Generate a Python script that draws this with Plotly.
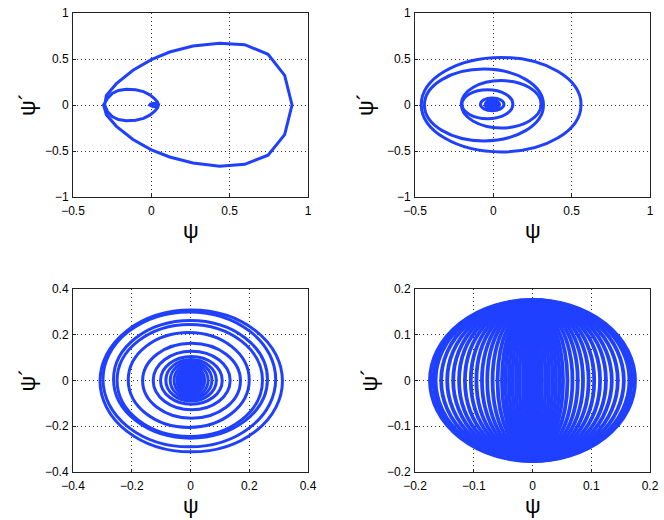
import plotly.graph_objects as go

BLUE = "#2040ff"

# ---- Panel 1 (top-left): vertices ----
p1_psi = [0.035, 0.028, 0.012, -0.005, -0.010, -0.005, 0.012, 0.028, 0.035, 0.045,
          0.040, 0.020, -0.010, -0.050, -0.100, -0.160, -0.210, -0.250, -0.280, -0.298,
          -0.287, -0.223, -0.117, 0.0, 0.117, 0.266, 0.436, 0.596, 0.745, 0.851, 0.898,
          0.851, 0.745, 0.596, 0.436, 0.266, 0.117, 0.0, -0.117, -0.223, -0.287, -0.305,
          -0.280, -0.250, -0.210, -0.160, -0.100, -0.050, -0.010, 0.020, 0.040, 0.045]
p1_dpsi = [0.0, -0.014, -0.018, -0.010, 0.0, 0.010, 0.018, 0.014, 0.0, 0.0,
           -0.030, -0.070, -0.110, -0.145, -0.165, -0.170, -0.158, -0.125, -0.070, 0.0,
           0.105, 0.232, 0.377, 0.493, 0.576, 0.641, 0.672, 0.656, 0.551, 0.322, 0.0,
           -0.322, -0.545, -0.645, -0.665, -0.630, -0.565, -0.488, -0.375, -0.232, -0.105, 0.0,
           0.070, 0.125, 0.158, 0.170, 0.165, 0.145, 0.110, 0.070, 0.030, 0.0]

# ---- Panel 2 (top-right): turns as (left, right, bottom, top) extents ----
p2_left = [-0.460, -0.440, -0.205, -0.200, -0.082, -0.052, -0.036, -0.026, -0.016]
p2_right = [0.560, 0.320, 0.305, 0.125, 0.068, 0.040, 0.026, 0.016, 0.006]
p2_bottom = [-0.510, -0.390, -0.250, -0.150, -0.062, -0.045, -0.032, -0.020, -0.010]
p2_top = [0.517, 0.390, 0.265, 0.165, 0.077, 0.052, 0.036, 0.024, 0.012]

# ---- Panel 3 (bottom-left) ----
p3_left = [-0.308, -0.298, -0.262, -0.250, -0.212, -0.163, -0.127, -0.102, -0.084, -0.069,
           -0.056, -0.046, -0.039, -0.032, -0.026, -0.020, -0.014, -0.009, -0.004]
p3_right = [0.313, 0.290, 0.262, 0.245, 0.200, 0.170, 0.135, 0.108, 0.088, 0.073,
            0.060, 0.048, 0.040, 0.033, 0.027, 0.021, 0.015, 0.010, 0.005]
p3_bottom = [-0.312, -0.290, -0.252, -0.245, -0.205, -0.165, -0.128, -0.104, -0.090, -0.080,
             -0.072, -0.064, -0.056, -0.048, -0.040, -0.032, -0.024, -0.016, -0.008]
p3_top = [0.308, 0.300, 0.262, 0.245, 0.210, 0.163, 0.128, 0.105, 0.092, 0.082,
          0.074, 0.066, 0.058, 0.050, 0.042, 0.034, 0.026, 0.018, 0.009]

# ---- Panel 4 (bottom-right): ring half-widths / half-heights ----
p4_halfwidth = [0.1745, 0.1685, 0.165, 0.1555, 0.1452, 0.135, 0.125, 0.115, 0.105, 0.0955,
                0.086, 0.077, 0.068, 0.0595, 0.052, 0.046, 0.040, 0.034, 0.028, 0.022,
                0.016, 0.010, 0.005, 0.001]
p4_halfheight = [0.176, 0.1755, 0.175, 0.174, 0.173, 0.172, 0.171, 0.170, 0.169, 0.168,
                 0.167, 0.166, 0.165, 0.164, 0.163, 0.162, 0.161, 0.160, 0.159, 0.158,
                 0.157, 0.156, 0.155, 0.154]

x_ticks_top = [-0.5, 0, 0.5, 1]
y_ticks_top = [-1, -0.5, 0, 0.5, 1]
ticks_p3 = [-0.4, -0.2, 0, 0.2, 0.4]
ticks_p4 = [-0.2, -0.1, 0, 0.1, 0.2]

W, H = 664, 520
LW = 3
LW4 = 3.8

fig = go.Figure()

fig.add_trace(go.Scatter(x=p1_psi, y=p1_dpsi, mode="lines",
                         line=dict(color=BLUE, width=LW), xaxis="x", yaxis="y",
                         showlegend=False, hoverinfo="skip"))

shapes = []

def rings(L, R, B, T, xr, yr, lw):
    for l, r, b, t in zip(L, R, B, T):
        shapes.append(dict(type="circle", xref=xr, yref=yr, x0=l, x1=r, y0=b, y1=t,
                           line=dict(color=BLUE, width=lw)))

rings(p2_left, p2_right, p2_bottom, p2_top, "x2", "y2", LW)
rings(p3_left, p3_right, p3_bottom, p3_top, "x3", "y3", LW)
rings([-a for a in p4_halfwidth], p4_halfwidth, [-b for b in p4_halfheight], p4_halfheight,
      "x4", "y4", LW4)

for k, xs in ((2, x_ticks_top), (3, ticks_p3), (4, ticks_p4)):
    fig.add_trace(go.Scatter(x=[xs[0]], y=[0], mode="markers", marker=dict(opacity=0),
                             xaxis=f"x{k}", yaxis=f"y{k}", showlegend=False, hoverinfo="skip"))

xdom_l = [73 / W, 308 / W]
xdom_r = [415 / W, 650 / W]
ydom_t = [1 - 197 / H, 1 - 13 / H]
ydom_b = [1 - 472 / H, 1 - 289 / H]

FONT = "Liberation Sans, Arial, sans-serif"
axcommon = dict(showgrid=True, gridcolor="#333", griddash="1px,3px", gridwidth=1,
                showline=True, linecolor="#222", linewidth=1, mirror=True,
                ticks="inside", ticklen=3, tickcolor="#222", zeroline=False,
                tickfont=dict(family=FONT, size=12, color="black"), fixedrange=True)

def ax(dom, rng, tv, anchor, standoff):
    d = dict(axcommon)
    d.update(domain=dom, range=rng, tickvals=tv,
             ticktext=[("\u2212" if v < 0 else "") + f"{abs(v):g}" for v in tv],
             anchor=anchor, autorange=False, ticklabelstandoff=standoff)
    return d

fig.update_layout(
    width=W, height=H, margin=dict(l=0, r=0, t=0, b=0, autoexpand=False),
    paper_bgcolor="white", plot_bgcolor="white",
    xaxis=ax(xdom_l, [-0.5, 1], x_ticks_top, "y", 3),
    yaxis=ax(ydom_t, [-1, 1], y_ticks_top, "x", 1),
    xaxis2=ax(xdom_r, [-0.5, 1], x_ticks_top, "y2", 3),
    yaxis2=ax(ydom_t, [-1, 1], y_ticks_top, "x2", 1),
    xaxis3=ax(xdom_l, [-0.4, 0.4], ticks_p3, "y3", 3),
    yaxis3=ax(ydom_b, [-0.4, 0.4], ticks_p3, "x3", 1),
    xaxis4=ax(xdom_r, [-0.2, 0.2], ticks_p4, "y4", 3),
    yaxis4=ax(ydom_b, [-0.2, 0.2], ticks_p4, "x4", 1),
    shapes=shapes,
)

ann = []
for k, yoff in ((1, -46), (2, -50), (3, -46), (4, -46)):
    xs = "x" if k == 1 else f"x{k}"
    ys = "y" if k == 1 else f"y{k}"
    ann.append(dict(text="\u03c8", xref=f"{xs} domain", yref=f"{ys} domain", x=0.5, y=-34 / 184,
                    showarrow=False, font=dict(family=FONT, size=22, color="black"),
                    xanchor="center", yanchor="middle"))
    ann.append(dict(text="\u03c8\u00b4", xref=f"{xs} domain", yref=f"{ys} domain", x=yoff / 235, y=0.5,
                    showarrow=False, font=dict(family=FONT, size=22, color="black"),
                    textangle=-90, xanchor="center", yanchor="middle"))
fig.update_layout(annotations=ann)

fig.write_html("out.html", config={"responsive": False, "displayModeBar": False},
               post_script="document.body.style.margin='0';document.body.style.overflow='hidden';")
